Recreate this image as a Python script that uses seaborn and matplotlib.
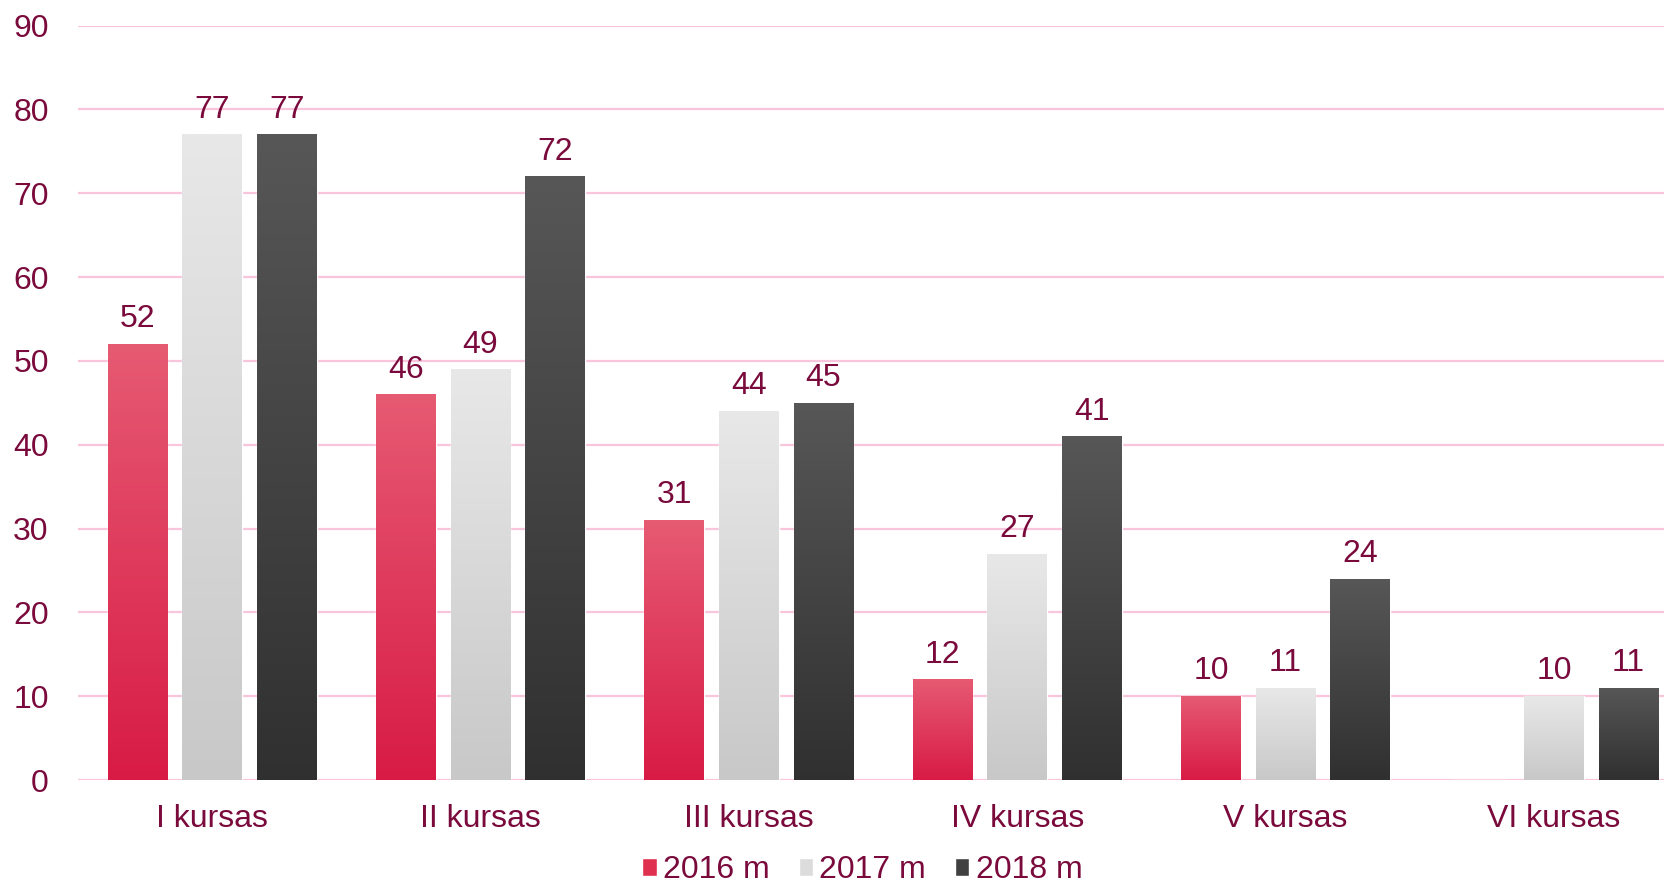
import numpy as np
import pandas as pd
import matplotlib
matplotlib.use("Agg")
import matplotlib.pyplot as plt
import matplotlib.patheffects as pe
from matplotlib.colors import LinearSegmentedColormap
from matplotlib.patches import Patch
import seaborn as sns

# data
courses = ["I kursas", "II kursas", "III kursas", "IV kursas", "V kursas", "VI kursas"]
years = ["2016 m", "2017 m", "2018 m"]
v2016 = [52, 46, 31, 12, 10, 0]
v2017 = [77, 49, 44, 27, 11, 10]
v2018 = [77, 72, 45, 41, 24, 11]

# colours: (top, bottom) of each bar gradient
grad = {"2016 m": ("#e65a72", "#d81b45"),
        "2017 m": ("#e8e8e8", "#c8c8c8"),
        "2018 m": ("#575757", "#303030")}
txt = "#7a0a3c"
grid_c = "#f9c5dc"

df = pd.DataFrame({
    "course": courses * 3,
    "year": [y for y in years for _ in courses],
    "value": v2016 + v2017 + v2018,
})

sns.set_style("white")
plt.rcParams["font.family"] = ["Liberation Sans", "DejaVu Sans"]

fig = plt.figure(figsize=(16.65, 8.89), dpi=100)
ax = fig.add_axes([0.0468, 0.1226, 0.9532, 0.8487])

pal = {y: grad[y][1] for y in years}
sns.barplot(data=df, x="course", y="value", hue="year", palette=pal,
            width=0.834, gap=0.2, ax=ax, legend=False, zorder=3)

ax.yaxis.grid(True, color=grid_c, lw=1.6, zorder=0)
ax.set_axisbelow(True)
for s in ax.spines.values():
    s.set_visible(False)
ax.set_xlabel("")
ax.set_ylabel("")
ax.set_yticks(range(0, 91, 10))
ax.tick_params(axis="y", labelsize=23, labelcolor=txt, length=0, pad=21)
ax.tick_params(axis="x", labelsize=23, labelcolor=txt, length=0, pad=17)

# gradient fill + soft shadow on each bar
for cont, y in zip(ax.containers, years):
    cmap = LinearSegmentedColormap.from_list(y, [grad[y][1], grad[y][0]])
    for bar in cont:
        h = bar.get_height()
        if not h or np.isnan(h):
            continue
        bar.set_path_effects([pe.SimplePatchShadow(offset=(0, -2), shadow_rgbFace="#555555", alpha=0.25),
                              pe.Normal()])
        x0 = bar.get_x()
        w = bar.get_width()
        img = ax.imshow(np.linspace(0, 1, 256).reshape(-1, 1), cmap=cmap, origin="lower",
                        extent=[x0, x0 + w, 0, h], aspect="auto", zorder=3.5)
        img.set_clip_path(bar)
    labels = [str(int(v)) if v > 0 else "" for v in cont.datavalues]
    ax.bar_label(cont, labels=labels, padding=7, fontsize=23, color=txt)

ax.set_xlim(-0.5, 5.414)
ax.set_ylim(0, 90)

handles = [Patch(facecolor=c, label=y) for c, y in zip(["#e0304f", "#dcdcdc", "#404040"], years)]
fig.legend(handles=handles, loc="center", bbox_to_anchor=(0.518, 0.021), ncol=3,
           frameon=False, fontsize=23, labelcolor=txt, handlelength=0.45, handleheight=0.45,
           handletextpad=0.2, columnspacing=0.9, borderpad=0.1)

fig.savefig("out.png", dpi=100)
